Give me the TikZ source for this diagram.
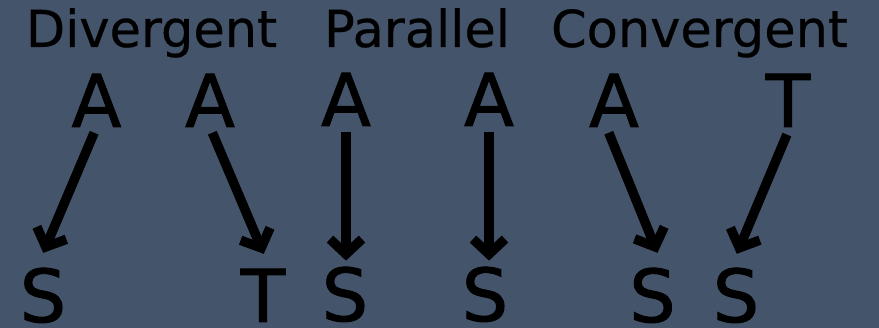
\documentclass[tikz,border=0pt]{standalone}
\usepackage{fontspec}
\setmainfont{DejaVu Sans}
\newfontfamily\thick[FakeBold=1.2]{DejaVu Sans}
\newfontfamily\semithick[FakeBold=0.5]{DejaVu Sans}
\usetikzlibrary{arrows.meta}
\definecolor{slate}{HTML}{44546A}
\tikzset{title/.style={anchor=base,inner sep=0pt,font=\semithick\fontsize{51}{60}\selectfont}}
\tikzset{letter/.style={anchor=base,inner sep=0pt,font=\thick\fontsize{73}{88}\selectfont}}
\tikzset{arr/.style={-{Straight Barb[length=15pt,width=32pt]},line width=9.5pt,shorten <=6pt,shorten >=16pt}}

\begin{document}
\begin{tikzpicture}[x=1pt,y=-1pt]
\fill[slate] (0,0) rectangle (879,328);
\useasboundingbox (0,0) rectangle (879,328);
% headings
\node (div) [title] at (151.5,47) {Divergent};
\node (par) [title] at (417,47) {Parallel};
\node (conv) [title] at (699.5,47) {Convergent};
%
\node (a1) [letter] at (96.5,127) {A};
\node (a2) [letter] at (210,127) {A};
\node (s1) [letter] at (43,322) {S};
\node (t1) [letter] at (263,322) {T};
%
\node (a3) [letter] at (346,126) {A};
\node (a4) [letter] at (489,126) {A};
\node (s2) [letter] at (345,321) {S};
\node (s3) [letter] at (485,321) {S};
%
\node (a5) [letter] at (614,127) {A};
\node (t2) [letter] at (788,127) {T};
\node (s4) [letter] at (652.5,322) {S};
\node (s5) [letter] at (736,322) {S};
%
\path[arr] (a1.south) edge ([xshift=-6pt]s1.north);
\path[arr] (a2.south) edge ([xshift=7pt]t1.north);
\path[arr,shorten >=6pt] (a3.south) edge (a3.south |- s2.north);
\path[arr,shorten >=6pt] (a4.south) edge (a4.south |- s3.north);
\path[arr] ([xshift=-7.5pt]a5.south) edge ([xshift=11pt]s4.north);
\path[arr,shorten <=8pt,shorten >=15pt] ([xshift=2pt]t2.south) edge ([xshift=-5pt]s5.north);
\end{tikzpicture}
\end{document}
